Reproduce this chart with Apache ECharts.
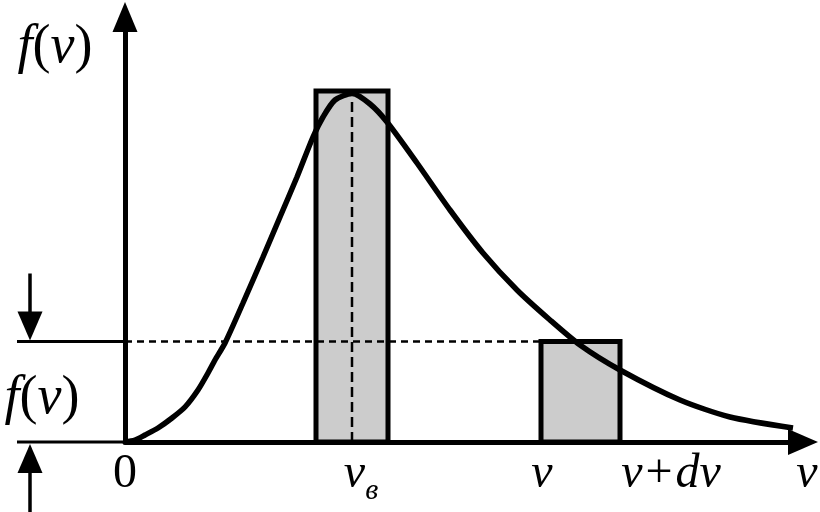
<!DOCTYPE html>
<html><head><meta charset="utf-8">
<script src="https://cdn.jsdelivr.net/npm/echarts@6/dist/echarts.min.js"></script>
<style>html,body{margin:0;padding:0;background:#fff}#c{width:820px;height:512px}</style>
</head><body><div id="c"></div>
<script>
// ---- data (units) ----
const curveV = [0, 10, 20, 33, 47, 60, 73, 83, 90, 100, 118, 138, 155, 172, 188, 198, 210, 227, 245, 262, 292, 325, 358, 392, 425, 455, 495, 555, 605, 668];
const curveF = [0, 2, 7, 14, 24, 35, 52, 69, 82, 99, 139, 185, 225, 265, 305, 325, 342, 348.5, 338, 320, 279, 232, 189, 152, 122, 97, 72, 42, 25, 14];
const peakV = 227;
const peakDashTop = 341;
const barStart = [191, 416];
const barEnd = [263, 495];
const barHeight = [351, 100.5];
const levelF = 100.5;
const xTickValues = [0, 236, 417, 546, 678];
const xTickLabels = ['0', 'v_в', 'v', 'v+dv', 'v_end'];
const xMax = 678, yMax = 425;

const FONT = '"Liberation Serif", "Times New Roman", serif';
const chart = echarts.init(document.getElementById('c'), null, {renderer: 'canvas'});

const LH = 64;
const richX = {
  n: {fontFamily: FONT, fontSize: 48, color: '#000', lineHeight: LH},
  i: {fontFamily: FONT, fontSize: 48, fontStyle: 'italic', color: '#000', lineHeight: LH},
  e: {fontFamily: FONT, fontSize: 48, fontStyle: 'italic', color: '#000', lineHeight: LH, padding: [0, 0, 0, 8]},
  s: {fontFamily: FONT, fontSize: 30, fontStyle: 'italic', color: '#000', lineHeight: 30, padding: [34, 0, 0, 0]},
  p: {fontFamily: FONT, fontSize: 48, color: '#000', lineHeight: LH, padding: [0, 3, 0, 3]}
};
function fmtX(val) {
  const idx = xTickValues.indexOf(val);
  const t = idx >= 0 ? xTickLabels[idx] : '';
  if (t === '0') return '{n|0}';
  if (t === 'v') return '{i|v}';
  if (t === 'v_end') return '{e|v}';
  if (t === 'v_в') return '{i|v}{s|в}';
  if (t === 'v+dv') return '{i|v}{p|+}{i|dv}';
  return '';
}

function renderBar(params, api) {
  const p0 = api.coord([api.value(0), api.value(2)]);
  const p1 = api.coord([api.value(1), 0]);
  return {
    type: 'rect',
    shape: {x: p0[0], y: p0[1], width: p1[0] - p0[0], height: p1[1] - p0[1]},
    style: {fill: '#cccccc', stroke: '#000', lineWidth: 5}
  };
}

const option = {
  animation: false,
  backgroundColor: '#fff',
  grid: {left: 125, right: 17, top: 17, bottom: 70, containLabel: false, outerBoundsMode: 'none'},
  xAxis: {
    type: 'value', min: 0, max: xMax,
    splitLine: {show: false}, axisTick: {show: false},
    axisLine: {show: true, onZero: false, symbol: ['none', 'triangle'], symbolSize: [26, 30],
      lineStyle: {color: '#000', width: 5}},
    axisLabel: {show: true, customValues: xTickValues, formatter: fmtX, margin: 0, rich: richX,
      hideOverlap: false, showMinLabel: true, showMaxLabel: true}
  },
  yAxis: {
    type: 'value', min: 0, max: yMax,
    splitLine: {show: false}, axisTick: {show: false}, axisLabel: {show: false},
    axisLine: {show: true, onZero: false, symbol: ['none', 'triangle'], symbolSize: [25, 30],
      lineStyle: {color: '#000', width: 5}}
  },
  series: [
    {type: 'custom', renderItem: renderBar, z: 1,
      data: barStart.map((s, i) => [s, barEnd[i], barHeight[i]])},
    {type: 'line', z: 2, symbol: 'none', silent: true,
      data: [[0, levelF], [barStart[1], levelF]],
      lineStyle: {color: '#000', width: 2.5, type: [7, 5]}},
    {type: 'line', z: 2, symbol: 'none', silent: true,
      data: [[peakV, 0], [peakV, peakDashTop]],
      lineStyle: {color: '#000', width: 2.5, type: [10, 5]}},
    {type: 'line', z: 3, symbol: 'none', smooth: 0.25, silent: true,
      data: curveV.map((v, i) => [v, curveF[i]]),
      lineStyle: {color: '#000', width: 5.5}}
  ]
};
chart.setOption(option);

const o = chart.convertToPixel({gridIndex: 0}, [0, 0]);
const lv = chart.convertToPixel({gridIndex: 0}, [0, levelF]);
const x0 = o[0], y0 = o[1], yl = lv[1];
const ax = 30;
const richF = {
  n: {fontFamily: FONT, fontSize: 54, color: '#000'},
  i: {fontFamily: FONT, fontSize: 54, fontStyle: 'italic', color: '#000'}
};
chart.setOption({
  graphic: [
    {type: 'line', shape: {x1: 17, y1: yl, x2: x0, y2: yl}, style: {stroke: '#000', lineWidth: 3}},
    {type: 'line', shape: {x1: 17, y1: y0, x2: x0, y2: y0}, style: {stroke: '#000', lineWidth: 3}},
    {type: 'line', shape: {x1: ax, y1: yl - 68, x2: ax, y2: yl - 20}, style: {stroke: '#000', lineWidth: 3.5}},
    {type: 'polygon', shape: {points: [[ax - 12.5, yl - 30], [ax + 12.5, yl - 30], [ax, yl - 1]]}, style: {fill: '#000'}},
    {type: 'line', shape: {x1: ax, y1: y0 + 20, x2: ax, y2: 512}, style: {stroke: '#000', lineWidth: 3.5}},
    {type: 'polygon', shape: {points: [[ax - 12.5, y0 + 31], [ax + 12.5, y0 + 31], [ax, y0 + 2]]}, style: {fill: '#000'}},
    {type: 'text', x: 55, y: 48, style: {text: '{i|f}{n|(}{i|v}{n|)}', rich: richF, align: 'center', verticalAlign: 'middle'}},
    {type: 'text', x: 42, y: 399, style: {text: '{i|f}{n|(}{i|v}{n|)}', rich: richF, align: 'center', verticalAlign: 'middle'}}
  ]
});
</script>
</body></html>
